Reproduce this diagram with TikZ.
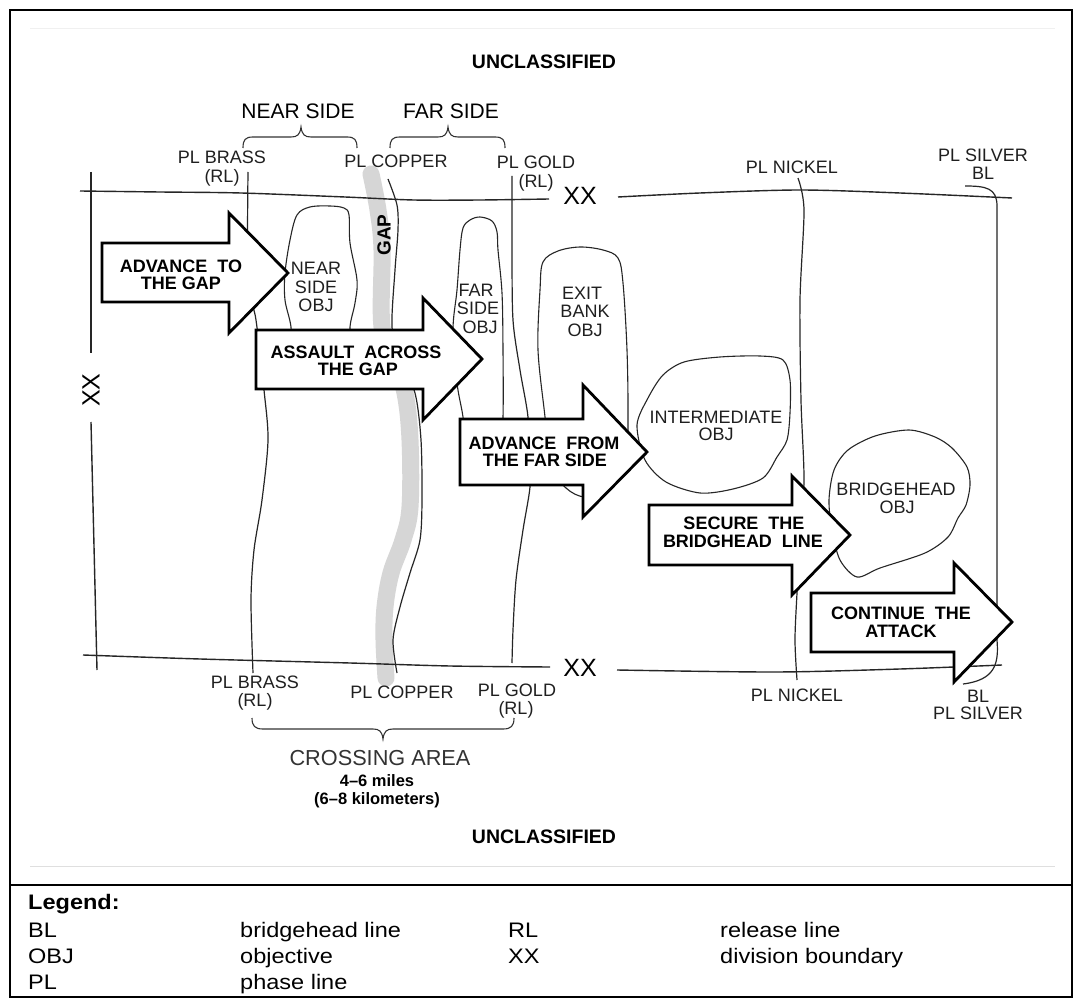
\documentclass[tikz,border=0pt]{standalone}
\usepackage{fontspec}
\setmainfont{Liberation Sans}
\newfontfamily\legfont{Liberation Sans}[FakeStretch=1.12]
\begin{document}
\begin{tikzpicture}[x=1pt,y=-1pt,
  lbl/.style={font=\fontsize{18}{18}\selectfont, anchor=base, inner sep=0pt, text=black!88},
  albl/.style={font=\bfseries\fontsize{18}{18}\selectfont, anchor=base, inner sep=0pt},
  head/.style={font=\fontsize{21}{21}\selectfont, anchor=base, inner sep=0pt},
  xxlbl/.style={font=\fontsize{25}{25}\selectfont, anchor=center, inner sep=0pt},
  uncl/.style={font=\bfseries\fontsize{19.5}{19.5}\selectfont, anchor=base, inner sep=0pt},
  leg/.style={font=\legfont\fontsize{21}{21}\selectfont, anchor=base west, inner sep=0pt},
  blockarrow/.style={draw=black, line width=2.8pt, fill=white, line join=miter},
  phase/.style={line width=1.2pt, black!85},
  objline/.style={line width=1.1pt, black!85},
  bound/.style={line width=1.4pt, black!85},
  gapband/.style={line width=17pt, gray!32, line cap=round},
  bracepath/.style={line width=1.1pt, black!80}
]
\useasboundingbox (0,0) rectangle (1077,1008);
\fill[white] (0,0) rectangle (1077,1008);

% frame and legend separator
\draw[line width=2pt] (10,10) rectangle (1072,997);
\draw[line width=2.4pt] (10,885) -- (1072,885);
\draw[gray!12, line width=1pt] (30,29) -- (1055,29);
\draw[gray!25, line width=1pt] (30,866) -- (1055,866);

% gap band
\draw[gapband] plot[smooth, tension=0.6] coordinates {(371,174) (378,210) (382,250) (382,327) (395,365) (405,393) (410,440) (410,507) (403,540) (391,573) (385,607) (384,640) (386,678)};

% division boundary lines
\draw[bound] plot[smooth, tension=0.5] coordinates {(80,191) (160,192) (241,193) (345,197) (414,200) (480,200) (549,199)};
\draw[bound] plot[smooth, tension=0.5] coordinates {(618,197) (700,193) (800,190) (900,193) (1012,198)};
\draw[bound] plot[smooth, tension=0.5] coordinates {(83,655) (200,659) (350,663) (450,666) (550,667)};
\draw[bound] plot[smooth, tension=0.5] coordinates {(617,670) (775,672) (900,669) (1002,665)};
\draw[bound] (91,172) -- (91,353);
\draw[bound] (91,422) -- (97,670);

% phase lines
\draw[phase] plot[smooth, tension=0.5] coordinates {(248,172) (248,280) (256,320) (264,390) (268,440) (262,500) (254,550) (251,600) (253,673)};
\draw[phase] plot[smooth, tension=0.5] coordinates {(388,179) (397,205) (398,230) (395,270) (392,327) (400,360) (415,393) (421,440) (422,500) (420,540) (410,573) (400,607) (393,640) (397,673)};
\draw[phase] plot[smooth, tension=0.5] coordinates {(512,176) (512,250) (513,320) (520,370) (528,417) (529,460) (530,487) (523,530) (516,580) (513,630) (512,663)};
\draw[phase] plot[smooth, tension=0.5] coordinates {(798,178) (804,210) (800,300) (801,400) (804,480) (800,540) (797,593) (795,640) (797,680)};
\draw[phase] (965,186) .. controls (986,186) and (997,188) .. (997,206) -- (997,640) .. controls (999,664) and (995,680) .. (963,684);

% objectives
\draw[objline] plot[smooth cycle, tension=0.55] coordinates {(297,215) (310,207) (330,206) (344,208) (349,215) (350,243) (357,280) (355,303) (350,327) (350,360) (320,368) (292,360) (291,327) (285,300) (285,273) (290,240)};
\draw[objline] plot[smooth cycle, tension=0.55] coordinates {(463,228) (470,220) (480,217) (492,221) (497,232) (498,250) (502,293) (503,350) (503,417) (500,460) (482,470) (468,460) (463,417) (457,383) (453,330) (457,290) (460,250)};
\draw[objline] plot[smooth cycle, tension=0.55] coordinates {(543,262) (558,251) (580,247) (603,250) (618,258) (623,283) (627,350) (628,417) (626,460) (610,490) (585,497) (566,488) (550,465) (545,417) (538,350) (540,290)};
\draw[objline] plot[smooth cycle, tension=0.5] coordinates {(648,398) (663,375) (684,362) (720,357) (760,356) (783,360) (790,380) (790,413) (787,440) (777,457) (763,478) (733,489) (700,493) (666,482) (645,460) (637,425)};
\draw[objline] plot[smooth cycle, tension=0.5] coordinates {(829,500) (834,470) (848,450) (875,436) (909,430) (935,437) (952,448) (967,467) (970,485) (966,505) (958,518) (948,537) (925,553) (880,568) (857,577) (840,560) (832,530)};

% block arrows
\draw[blockarrow] (102,243) -- (229,243) -- (229,213) -- (288,273) -- (229,333) -- (229,302) -- (102,302) -- cycle;
\draw[blockarrow] (256,330) -- (423,330) -- (423,298) -- (482,359) -- (423,420) -- (423,389) -- (256,389) -- cycle;
\draw[blockarrow] (460,419) -- (583,419) -- (583,385) -- (647,452) -- (583,517) -- (583,485) -- (460,485) -- cycle;
\draw[blockarrow] (649,505) -- (792,505) -- (792,476) -- (850,535) -- (792,595) -- (792,565) -- (649,565) -- cycle;
\draw[blockarrow] (811,593) -- (954,593) -- (954,563) -- (1012,622) -- (954,682) -- (954,652) -- (811,652) -- cycle;

% braces
\draw[bracepath] (243,148) .. controls (243,140) and (245,137) .. (253,137) -- (291,137) .. controls (297,137) and (300,135) .. (301,127) .. controls (302,135) and (305,137) .. (311,137) -- (347,137) .. controls (355,137) and (357,140) .. (357,148);
\draw[bracepath] (390,148) .. controls (390,140) and (392,137) .. (400,137) -- (438,137) .. controls (444,137) and (447,135) .. (448,127) .. controls (449,135) and (452,137) .. (458,137) -- (495,137) .. controls (503,137) and (505,140) .. (505,148);
\draw[bracepath] (252,718) .. controls (252,726) and (255,729) .. (263,729) -- (373,729) .. controls (379,729) and (382,731) .. (383,739) .. controls (384,731) and (387,729) .. (393,729) -- (503,729) .. controls (511,729) and (514,726) .. (514,718);

% headings
\node[uncl] (unclTop) at (544,69) {UNCLASSIFIED};
\node[uncl] (unclBot) at (544,843) {UNCLASSIFIED};
\node[head] (nearside) at (298,118.5) {NEAR SIDE};
\node[head] (farside) at (451,118.5) {FAR SIDE};

% XX
\node[xxlbl] (xxTop) at (580,196) {XX};
\node[xxlbl] (xxBot) at (580,668) {XX};
\node[xxlbl, rotate=90] (xxLeft) at (91,390) {XX};

% GAP
\node[font=\bfseries\fontsize{19}{19}\selectfont, rotate=90, inner sep=0pt] (gaplbl) at (384,235) {GAP};

% phase line labels top
\node[lbl] (brassT1) at (222,163.4) {PL BRASS};
\node[lbl] (brassT2) at (222,182.4) {(RL)};
\node[lbl] (copperT) at (396,167.4) {PL COPPER};
\node[lbl] (goldT1) at (536,168.4) {PL GOLD};
\node[lbl] (goldT2) at (536,187.4) {(RL)};
\node[lbl] (nickelT) at (792,173.4) {PL NICKEL};
\node[lbl] (silverT1) at (983,161.4) {PL SILVER};
\node[lbl] (silverT2) at (983,179.4) {BL};

% phase line labels bottom
\node[lbl] (brassB1) at (255,688.4) {PL BRASS};
\node[lbl] (brassB2) at (255,706.4) {(RL)};
\node[lbl] (copperB) at (402,698.4) {PL COPPER};
\node[lbl] (goldB1) at (517,696.4) {PL GOLD};
\node[lbl] (goldB2) at (516,714.4) {(RL)};
\node[lbl] (nickelB) at (797,701.4) {PL NICKEL};
\node[lbl] (silverB1) at (978,702.4) {BL};
\node[lbl] (silverB2) at (978,719.4) {PL SILVER};

% objective labels
\node[lbl] (near1) at (316,274.4) {NEAR};
\node[lbl] (near2) at (316,293.4) {SIDE};
\node[lbl] (near3) at (316,311.4) {OBJ};
\node[lbl] (far1) at (476,296.4) {FAR};
\node[lbl] (far2) at (478,314.4) {SIDE};
\node[lbl] (far3) at (480,333.4) {OBJ};
\node[lbl] (exit1) at (582,299.4) {EXIT};
\node[lbl] (exit2) at (585,317.4) {BANK};
\node[lbl] (exit3) at (585,336.4) {OBJ};
\node[lbl] (inter1) at (716,423.4) {INTERMEDIATE};
\node[lbl] (inter2) at (716,440.4) {OBJ};
\node[lbl] (bh1) at (896,495.4) {BRIDGEHEAD};
\node[lbl] (bh2) at (897,513.4) {OBJ};

% arrow labels
\node[albl] (a1l1) at (181,272.4) {ADVANCE\ \ TO};
\node[albl] (a1l2) at (181,289.4) {THE GAP};
\node[albl] (a2l1) at (356,358.4) {ASSAULT\ \ ACROSS};
\node[albl] (a2l2) at (358,375.4) {THE GAP};
\node[albl] (a3l1) at (544,449.4) {ADVANCE\ \ FROM};
\node[albl] (a3l2) at (545,466.4) {THE FAR SIDE};
\node[albl] (a4l1) at (744,529.4) {SECURE\ \ THE};
\node[albl] (a4l2) at (743,547.4) {BRIDGHEAD\ \ LINE};
\node[albl] (a5l1) at (901,619.4) {CONTINUE\ \ THE};
\node[albl] (a5l2) at (901,637.4) {ATTACK};

% crossing area
\node[font=\fontsize{21.7}{21.7}\selectfont, anchor=base, inner sep=0pt, text=black!80] (cross) at (380,765.8) {CROSSING AREA};
\node[font=\bfseries\fontsize{16.5}{16.5}\selectfont, anchor=base, inner sep=0pt] (miles) at (377,786.9) {4--6 miles};
\node[font=\bfseries\fontsize{16.5}{16.5}\selectfont, anchor=base, inner sep=0pt] (km) at (377,804.9) {(6--8 kilometers)};

% legend
\node[leg, font=\legfont\bfseries\fontsize{21}{21}\selectfont] (legT) at (28,909.5) {Legend:};
\node[leg] (lg1a) at (28,937.5) {BL};
\node[leg] (lg1b) at (240,937.5) {bridgehead line};
\node[leg] (lg2a) at (28,963.5) {OBJ};
\node[leg] (lg2b) at (240,963.5) {objective};
\node[leg] (lg3a) at (28,989.5) {PL};
\node[leg] (lg3b) at (240,989.5) {phase line};
\node[leg] (lg4a) at (508,937.5) {RL};
\node[leg] (lg4b) at (720,937.5) {release line};
\node[leg] (lg5a) at (508,963.5) {XX};
\node[leg] (lg5b) at (720,963.5) {division boundary};
\end{tikzpicture}
\end{document}
